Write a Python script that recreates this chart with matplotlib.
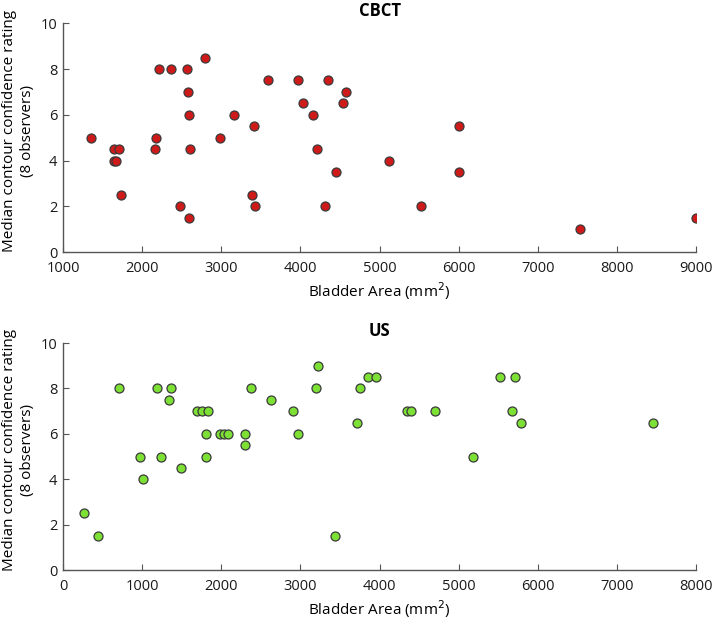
import matplotlib
matplotlib.use("Agg")
import matplotlib.pyplot as plt

plt.rcParams['font.family'] = ['Open Sans', 'DejaVu Sans']

# CBCT: bladder area (mm^2) vs median confidence rating
cbct_area = [1350, 1640, 1712, 1648, 1670, 1733, 2158, 2179, 2213, 2360, 2566, 2579,
             2591, 2604, 2474, 2591, 2789, 2987, 3160, 3417, 3383, 3425, 3589, 3968,
             4032, 4158, 4208, 4347, 4533, 4571, 4448, 4314, 5122, 6004, 6004, 5525,
             7526, 9000]
cbct_rating = [5, 4.5, 4.5, 4, 4, 2.5, 4.5, 5, 8, 8, 8, 7,
               6, 4.5, 2, 1.5, 8.5, 5, 6, 5.5, 2.5, 2, 7.5, 7.5,
               6.5, 6, 4.5, 7.5, 6.5, 7, 3.5, 2, 4, 5.5, 3.5, 2,
               1, 1.5]

# US
us_area = [269, 442, 703, 968, 1006, 1192, 1335, 1360, 1242, 1486, 1697, 1760,
           1827, 1802, 1802, 1987, 2038, 2088, 2295, 2295, 2375, 2632, 2905, 2964,
           3196, 3221, 3432, 3714, 3747, 3848, 3949, 4342, 4401, 4696, 5177, 5515,
           5713, 5679, 5781, 7456]
us_rating = [2.5, 1.5, 8, 5, 4, 8, 7.5, 8, 5, 4.5, 7, 7,
             7, 6, 5, 6, 6, 6, 6, 5.5, 8, 7.5, 7, 6,
             8, 9, 1.5, 6.5, 8, 8.5, 8.5, 7, 7, 7, 5, 8.5,
             8.5, 7, 6.5, 6.5]

fig = plt.figure(figsize=(7.13, 6.2), dpi=100)
ax1 = fig.add_axes([0.0884, 0.5935, 0.888, 0.369])
ax2 = fig.add_axes([0.0884, 0.0806, 0.888, 0.366])

panels = [
    (ax1, cbct_area, cbct_rating, '#cf1a1a', 'CBCT', (1000, 9000)),
    (ax2, us_area, us_rating, '#7de034', 'US', (0, 8000)),
]

for ax, x, y, col, title, xlim in panels:
    ax.scatter(x, y, s=42, c=col, edgecolors='#3a3a3a', linewidths=0.9, zorder=3)
    ax.set_xlim(*xlim)
    ax.set_ylim(0, 10)
    ax.set_yticks(range(0, 11, 2))
    ax.spines['top'].set_visible(False)
    ax.spines['right'].set_visible(False)
    for s in ('left', 'bottom'):
        ax.spines[s].set_color('#555555')
        ax.spines[s].set_linewidth(1.0)
    ax.tick_params(direction='in', length=4, color='#555555', labelsize=10.5,
                   labelcolor='#1a1a1a', pad=4)
    ax.tick_params(axis='x', pad=6.5)
    ax.set_title(title, fontsize=12, fontweight='bold', pad=5)
    ax.set_xlabel('Bladder Area (mm$^2$)', fontsize=11, labelpad=3)
    ax.set_ylabel('Median contour confidence rating\n(8 observers)', fontsize=11,
                  labelpad=4, linespacing=1.3, y=0.53)

fig.savefig('out.png', dpi=100)
